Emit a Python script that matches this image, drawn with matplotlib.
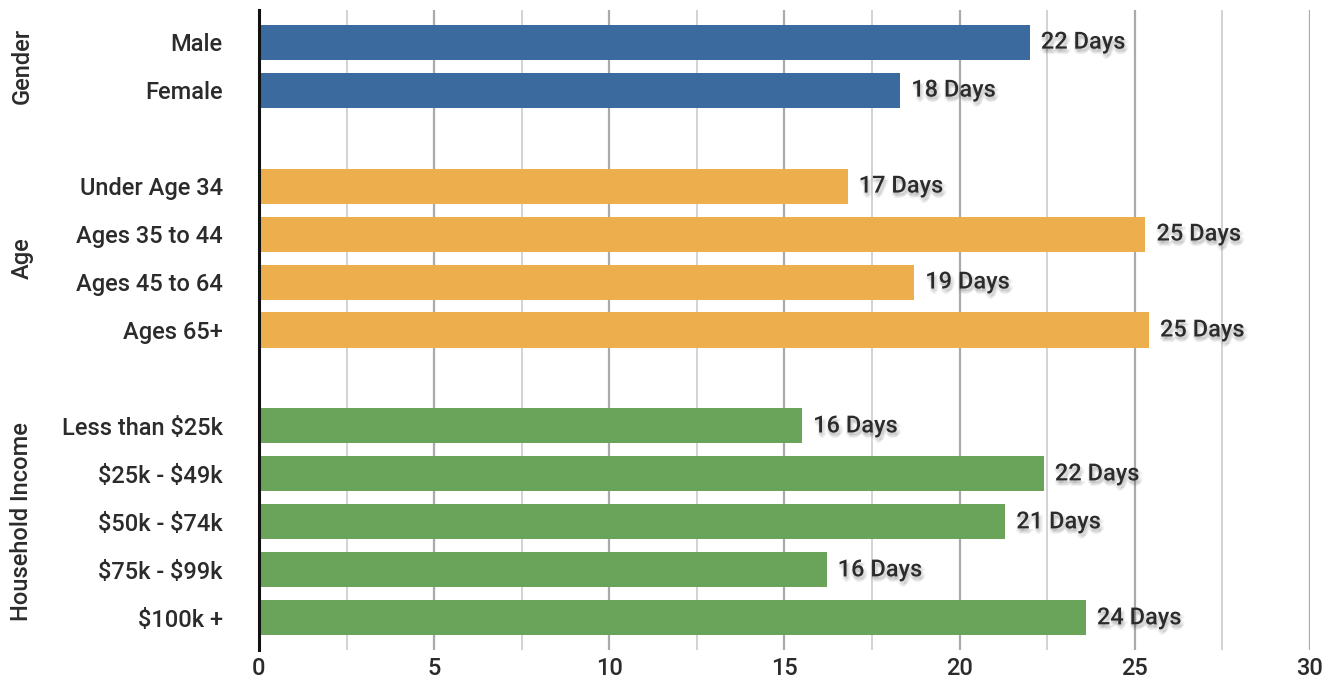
import matplotlib
matplotlib.use('Agg')
import matplotlib.pyplot as plt
import matplotlib.patheffects as pe
import matplotlib.transforms as mtransforms
from matplotlib.ticker import MultipleLocator

# data
groups = ["Gender", "Age", "Household Income"]
gender_cats = ["Male", "Female"]
gender_vals = [22.0, 18.3]
age_cats = ["Under Age 34", "Ages 35 to 44", "Ages 45 to 64", "Ages 65+"]
age_vals = [16.8, 25.3, 18.7, 25.4]
income_cats = ["Less than $25k", "$25k - $49k", "$50k - $74k", "$75k - $99k", "$100k +"]
income_vals = [15.5, 22.4, 21.3, 16.2, 23.6]
group_colors = ["#3a6a9e", "#edaf4d", "#6aa45a"]

plt.rcParams['font.family'] = ['Roboto', 'DejaVu Sans']
plt.rcParams['text.parse_math'] = False
TEXT = '#2b2b2b'
FS = 17

fig = plt.figure(figsize=(13.32, 6.85), dpi=100)
ax = fig.add_axes([0.1944, 0.0511, 0.7891, 0.9343])

# lay out rows with one empty row between groups
rows, labels, vals, cols, spans = [], [], [], [], []
pos = 0
for cats, vs, c in zip([gender_cats, age_cats, income_cats],
                       [gender_vals, age_vals, income_vals], group_colors):
    start = pos
    for cat, v in zip(cats, vs):
        rows.append(pos)
        labels.append(cat)
        vals.append(v)
        cols.append(c)
        pos += 1
    spans.append((start, pos - 1))
    pos += 1

ax.barh(rows, vals, height=0.73, color=cols, zorder=3)

# soft shadow: several faint offset copies
shadow = [pe.SimplePatchShadow(offset=(dx, dy), shadow_rgbFace='#444444', alpha=0.07)
          for dx, dy in [(0, -1), (1, -2), (2, -3), (-1, -2), (1, -4), (3, -2), (0, -3)]]
shadow.append(pe.Normal())
for r, v in zip(rows, vals):
    ax.annotate(f"{round(v)} Days", (v, r), xytext=(8, 0), textcoords='offset points',
                va='center', ha='left', fontsize=FS, fontweight='medium', color=TEXT,
                zorder=4, path_effects=shadow)

ax.set_xlim(0, 30)
ax.set_ylim(rows[-1] + 0.67, -0.67)
ax.xaxis.set_major_locator(MultipleLocator(5))
ax.xaxis.set_minor_locator(MultipleLocator(2.5))
ax.grid(axis='x', which='major', color='#aaaaaa', linewidth=1.6, zorder=0)
ax.grid(axis='x', which='minor', color='#cccccc', linewidth=1.2, zorder=0)
ax.set_yticks(rows)
ax.set_yticklabels(labels, fontweight='medium')
ax.tick_params(axis='y', length=0, pad=26, labelsize=FS, labelcolor=TEXT)
ax.tick_params(axis='x', which='both', length=0, pad=5, labelsize=FS, labelcolor=TEXT)
for t in ax.get_xticklabels():
    t.set_fontweight('medium')

for s in ['top', 'right', 'bottom']:
    ax.spines[s].set_visible(False)
ax.spines['left'].set_linewidth(2.2)
ax.spines['left'].set_color('#111111')
ax.spines['left'].set_zorder(5)

trans = mtransforms.blended_transform_factory(ax.transAxes, ax.transData)
for g, (a, b) in zip(groups, spans):
    ax.text(-0.2255, (a + b) / 2, g, rotation=90, ha='center', va='center',
            fontsize=FS, fontweight='medium', color=TEXT, transform=trans)

fig.savefig('out.png', dpi=100, facecolor='white')
